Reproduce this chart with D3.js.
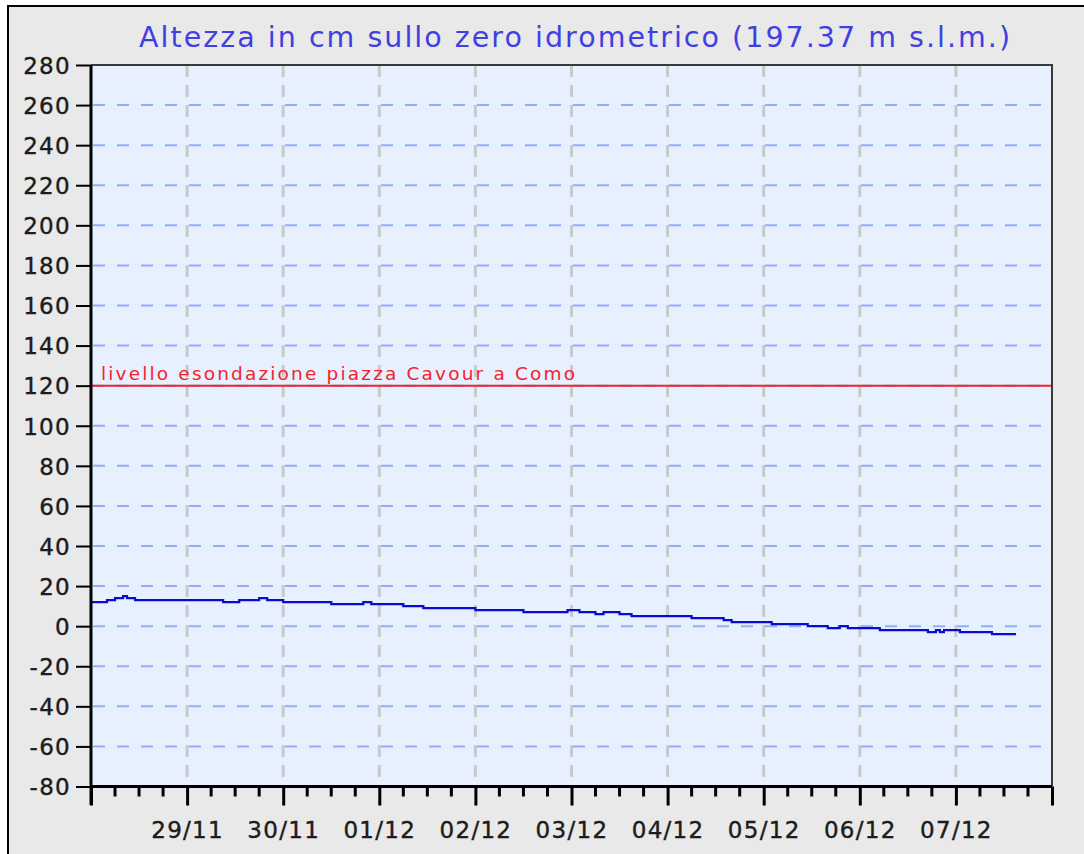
<!DOCTYPE html>
<html>
<head>
<meta charset="utf-8">
<script src="https://d3js.org/d3.v7.min.js"></script>
<style>
  body { margin: 0; background: #fff; }
  svg { display: block; }
  .lbl { font-family: "DejaVu Sans", Verdana, sans-serif; font-size: 23px; fill: #1c1c1c; stroke: #1c1c1c; stroke-width: 0.4px; letter-spacing: 1.3px; }
</style>
</head>
<body>
<svg width="1084" height="854"></svg>
<script>
// water level readings, step changes (dd/mm HH:MM -> cm)
var times = ["28/11 00:00","28/11 04:00","28/11 06:00","28/11 08:00","28/11 09:00","28/11 11:00",
  "29/11 09:00","29/11 13:00","29/11 18:00","29/11 20:00","30/11 00:00","30/11 12:00",
  "30/11 20:00","30/11 22:00","01/12 06:00","01/12 11:00","02/12 00:00","02/12 12:00",
  "02/12 23:00","03/12 02:00","03/12 06:00","03/12 08:00","03/12 12:00","03/12 15:00",
  "04/12 06:00","04/12 14:00","04/12 16:00","05/12 02:00","05/12 11:00","05/12 16:00",
  "05/12 19:00","05/12 21:00","06/12 05:00","06/12 17:00","06/12 19:00","06/12 20:00",
  "06/12 21:00","07/12 01:00","07/12 09:00","07/12 15:00"];
var levels = [12,13,14,15,14,13,
  12,13,14,13,12,11,
  12,11,10,9,8,7,
  8,7,6,7,6,5,
  4,3,2,1,0,-1,
  0,-1,-2,-3,-2,-3,
  -2,-3,-4,-4];
var yTicks = [-80,-60,-40,-20,0,20,40,60,80,100,120,140,160,180,200,220,240,260,280];
var xStart = "28/11 00:00", xEnd = "08/12 00:00";
var soglia = 120;
var sogliaLabel = "livello esondazione piazza Cavour a Como";
var title = "Altezza in cm sullo zero idrometrico (197.37 m s.l.m.)";

var parse = d3.timeParse("%d/%m %H:%M");
var data = times.map(function(t, i) { return { t: parse(t), v: levels[i] }; });

var svg = d3.select("svg");
var pL = 91, pR = 1052, pT = 65, pB = 786.5;

// outer panel
svg.append("rect").attr("x", 8).attr("y", 6).attr("width", 1090).attr("height", 860)
  .attr("fill", "#e9e9e9").attr("stroke", "#000").attr("stroke-width", 2);

var x = d3.scaleTime().domain([parse(xStart), parse(xEnd)]).range([pL, pR]);
var y = d3.scaleLinear().domain([-80, 280]).range([pB, pT]);

svg.append("rect").attr("x", pL).attr("y", pT).attr("width", pR - pL).attr("height", pB - pT)
  .attr("fill", "#e6f0fe");

svg.append("text").attr("x", 139).attr("y", 47)
  .style("font-family", "DejaVu Sans, Verdana, sans-serif").style("font-size", "28.5px")
  .attr("textLength", 871).attr("lengthAdjust", "spacing")
  .attr("fill", "#3f3fe2").text(title);

// grid
var days = d3.timeDay.range(parse(xStart), parse(xEnd)).slice(1);
svg.append("g").selectAll("line").data(days).enter().append("line")
  .attr("x1", function(d) { return x(d); }).attr("x2", function(d) { return x(d); })
  .attr("y1", pT).attr("y2", pB)
  .attr("stroke", "#c9c9c9").attr("stroke-width", 3).attr("stroke-dasharray", "12,8");
svg.append("g").selectAll("line").data(yTicks.slice(1, -1)).enter().append("line")
  .attr("x1", pL + 2).attr("x2", pR).attr("y1", function(d) { return y(d); }).attr("y2", function(d) { return y(d); })
  .attr("stroke", "#8db0fb").attr("stroke-width", 2).attr("stroke-dasharray", "12,12");

// threshold
svg.append("line").attr("x1", pL).attr("x2", pR).attr("y1", y(soglia)).attr("y2", y(soglia))
  .attr("stroke", "#f4232b").attr("stroke-width", 2);
svg.append("text").attr("x", 101).attr("y", 380)
  .style("font-family", "DejaVu Sans, Verdana, sans-serif").style("font-size", "18.5px")
  .attr("textLength", 474).attr("lengthAdjust", "spacing")
  .attr("fill", "#f4232b").text(sogliaLabel);

// series
var line = d3.line().x(function(d) { return x(d.t); }).y(function(d) { return y(d.v); }).curve(d3.curveStepAfter);
svg.append("path").datum(data).attr("d", line).attr("fill", "none")
  .attr("stroke", "#0a0ad2").attr("stroke-width", 2.2);

// plot frame top/right
svg.append("path").attr("d", "M" + pL + "," + pT + "H" + pR + "V" + pB)
  .attr("fill", "none").attr("stroke", "#3a3a3a").attr("stroke-width", 2);

// y axis
var yAxis = svg.append("g").attr("transform", "translate(" + pL + ",0)")
  .call(d3.axisLeft(y).tickValues(yTicks).tickFormat(function(d) { return String(d); }).tickSize(15).tickPadding(5));
yAxis.select(".domain").attr("stroke-width", 3).attr("d", "M0," + pT + "V805");
yAxis.selectAll(".tick line").attr("stroke-width", 2);
yAxis.selectAll("text").attr("class", "lbl").attr("dy", "0.36em");

// x axis
var xAxis = svg.append("g").attr("transform", "translate(0," + pB + ")")
  .call(d3.axisBottom(x).ticks(d3.timeDay.every(1)).tickFormat(d3.timeFormat("%d/%m")).tickSize(19).tickPadding(16));
xAxis.select(".domain").attr("stroke-width", 3).attr("d", "M" + pL + ",0H" + pR);
xAxis.selectAll(".tick line").attr("stroke-width", 3);
xAxis.selectAll("text").attr("class", "lbl")
  .filter(function(d) { return +d === +parse(xStart) || +d === +parse(xEnd); }).remove();
svg.append("g").attr("transform", "translate(0," + pB + ")").selectAll("line")
  .data(d3.timeHour.every(6).range(parse(xStart), parse(xEnd)).filter(function(d) { return d.getHours() !== 0; }))
  .enter().append("line")
  .attr("x1", function(d) { return x(d); }).attr("x2", function(d) { return x(d); })
  .attr("y1", 0).attr("y2", 10).attr("stroke", "#000").attr("stroke-width", 3);
</script>
</body>
</html>
